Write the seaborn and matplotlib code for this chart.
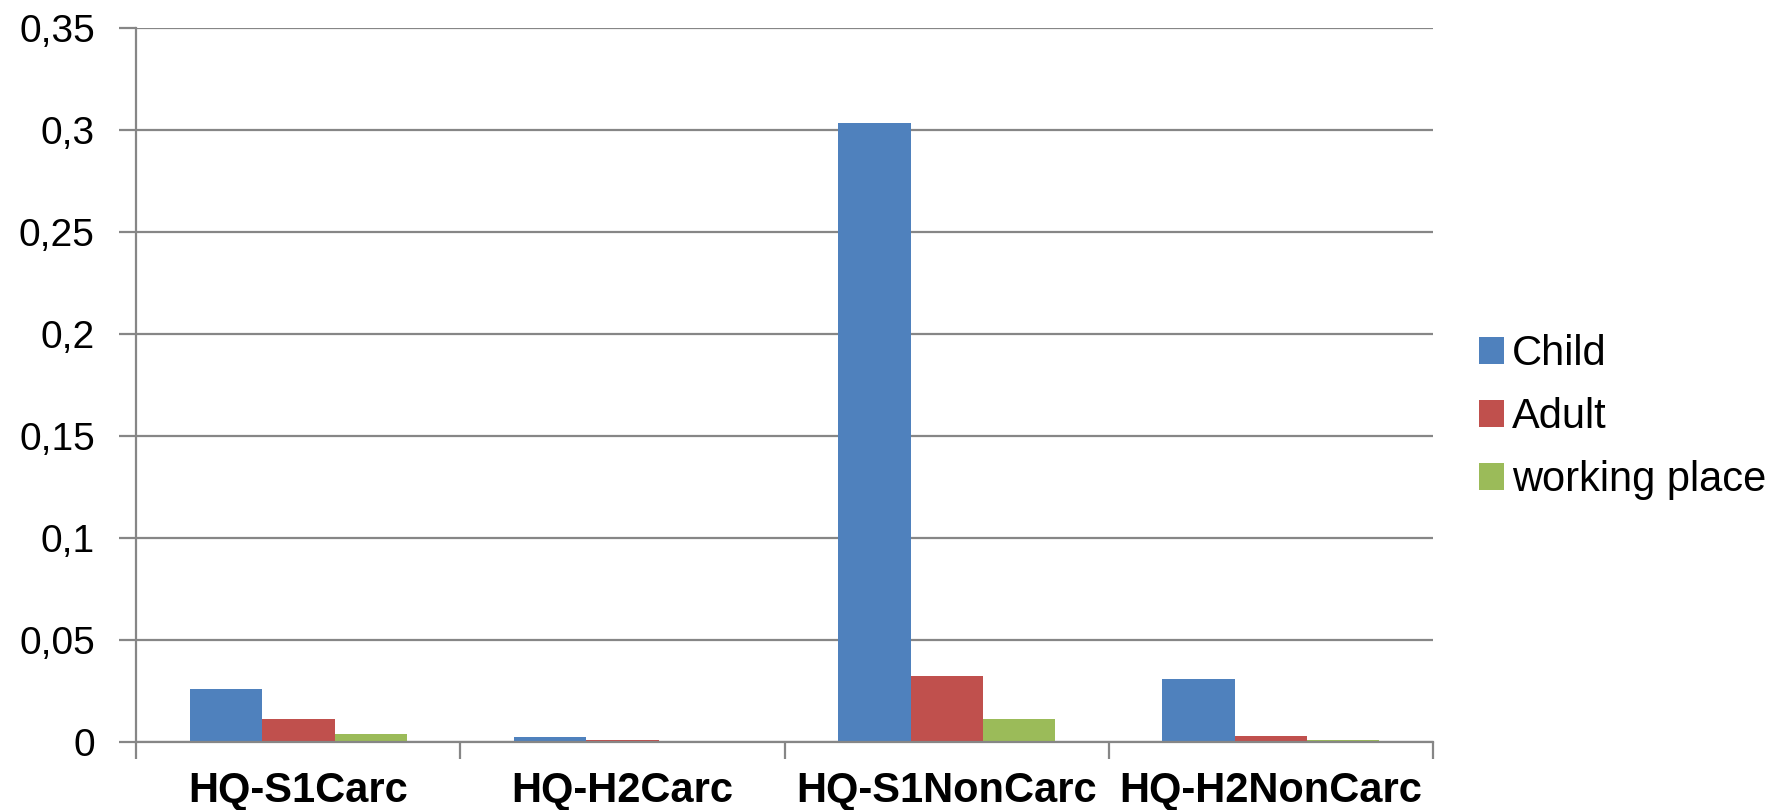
import matplotlib
matplotlib.use("Agg")
import matplotlib.pyplot as plt
import seaborn as sns
import pandas as pd
import numpy as np

categories = ["HQ-S1Carc", "HQ-H2Carc", "HQ-S1NonCarc", "HQ-H2NonCarc"]
groups = ["Child", "Adult", "working place"]
child = [0.0258, 0.0024, 0.3035, 0.0310]
adult = [0.0110, 0.0010, 0.0322, 0.0030]
working_place = [0.0040, 0.0002, 0.0113, 0.0010]
colors = ["#4F81BD", "#C0504D", "#9BBB59"]
y_ticks = [0, 0.05, 0.1, 0.15, 0.2, 0.25, 0.3, 0.35]
y_tick_labels = ["0", "0,05", "0,1", "0,15", "0,2", "0,25", "0,3", "0,35"]

df = pd.DataFrame({
    "category": categories * 3,
    "group": [g for g in groups for _ in categories],
    "value": child + adult + working_place,
})

sns.set_style("white")
plt.rcParams["font.family"] = ["Liberation Sans", "DejaVu Sans"]
plt.rcParams["text.color"] = "black"
plt.rcParams["xtick.color"] = "black"
plt.rcParams["ytick.color"] = "black"

fig = plt.figure(figsize=(17.84, 8.10), dpi=100)
ax = fig.add_axes([0.0765, 0.0842, 0.7265, 0.8808])

sns.barplot(data=df, x="category", y="value", hue="group",
            order=categories, hue_order=groups, palette=colors,
            saturation=1, width=0.667, errorbar=None, linewidth=0, ax=ax)

grid_col = "#868686"
ax.set_xlim(-0.5, len(categories) - 0.5)
ax.set_ylim(0, 0.35)
ax.set_yticks(y_ticks)
ax.set_yticklabels(y_tick_labels, fontsize=28, color="black")
ax.yaxis.grid(True, color=grid_col, linewidth=1.6)
ax.set_axisbelow(True)

for side in ["top", "right"]:
    ax.spines[side].set_visible(False)
for side in ["left", "bottom"]:
    ax.spines[side].set_color(grid_col)
    ax.spines[side].set_linewidth(1.6)

ax.tick_params(axis="y", which="major", length=12, width=1.6, color=grid_col,
               pad=18, left=True)
# category labels centred, boundary ticks as minor ticks
ax.set_xticks(range(len(categories)))
ax.set_xticklabels(categories, fontsize=30, fontweight="bold", color="black")
ax.tick_params(axis="x", which="major", length=0, pad=21)
ax.set_xticks(np.arange(-0.5, len(categories), 1.0), minor=True)
ax.tick_params(axis="x", which="minor", length=12, width=1.6, color=grid_col,
               bottom=True)

ax.set_xlabel("")
ax.set_ylabel("")

handles, labels = ax.get_legend_handles_labels()
ax.legend(handles, labels, loc="center left", bbox_to_anchor=(0.829, 0.485),
          bbox_transform=fig.transFigure, frameon=False, fontsize=30,
          borderpad=0, borderaxespad=0, handlelength=0.6, handleheight=0.6,
          handletextpad=0.2, labelspacing=0.55)

fig.savefig("out.png", dpi=100)
